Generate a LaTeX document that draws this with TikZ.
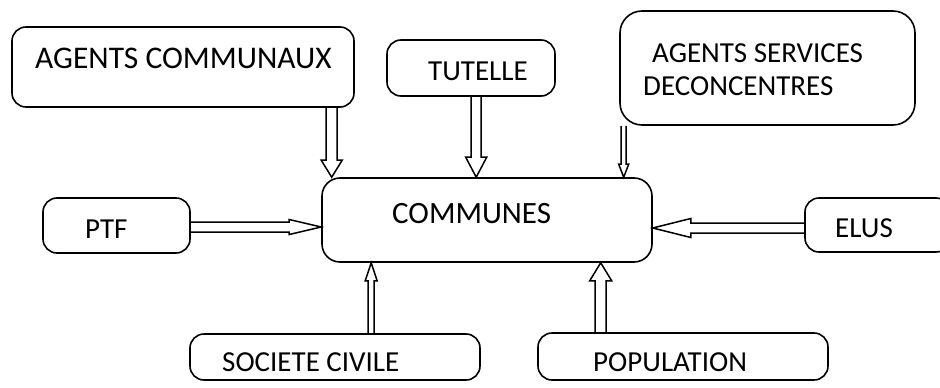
\documentclass[tikz,border=0pt]{standalone}
\usepackage{fontspec}
\setmainfont{Carlito}
\usetikzlibrary{calc}
\tikzset{
  box/.style={draw, line width=1.6pt, rounded corners=#1, inner sep=0pt, minimum width=0pt, minimum height=0pt},
  box/.default=14pt,
  lbl/.style={anchor=base west, inner sep=0pt, font=\fontsize{29}{29}\selectfont},
  biglbl/.style={lbl, font=\fontsize{31.5}{31.5}\selectfont},
  arrline/.style={draw, line width=1.5pt, line join=miter}
}
% #1 from, #2 to, #3 half shaft, #4 half head, #5 head length
\newcommand\blockarrow[5]{%
  \draw[arrline] let \p1=(#1), \p2=(#2),
     \n1={veclen(\x2-\x1,\y2-\y1)},
     \n2={(\x2-\x1)/\n1}, \n3={(\y2-\y1)/\n1} in
     ({\x1-\n3*#3},{\y1+\n2*#3})
  -- ({\x1+(\n1-#5)*\n2-\n3*#3},{\y1+(\n1-#5)*\n3+\n2*#3})
  -- ({\x1+(\n1-#5)*\n2-\n3*#4},{\y1+(\n1-#5)*\n3+\n2*#4})
  -- (\p2)
  -- ({\x1+(\n1-#5)*\n2+\n3*#4},{\y1+(\n1-#5)*\n3-\n2*#4})
  -- ({\x1+(\n1-#5)*\n2+\n3*#3},{\y1+(\n1-#5)*\n3-\n2*#3})
  -- ({\x1+\n3*#3},{\y1-\n2*#3});
}
\begin{document}
\begin{tikzpicture}[x=1pt,y=-1pt]
\useasboundingbox (0,0) rectangle (940,388);
% boxes
\node[box, minimum width=342pt, minimum height=80pt] (acom) at (183,67) {};
\node[box, minimum width=168pt, minimum height=56pt] (tut) at (471,68) {};
\node[box=22pt, minimum width=295pt, minimum height=114pt] (asd) at (767.5,68) {};
\node[box, minimum width=147pt, minimum height=55pt] (ptf) at (116.5,225.5) {};
\node[box=18pt, minimum width=330pt, minimum height=84pt] (com) at (487,220) {};
\node[box, minimum width=145pt, minimum height=54pt] (elus) at (877.5,225) {};
\node[box, minimum width=290pt, minimum height=46pt] (soc) at (335,357) {};
\node[box, minimum width=290pt, minimum height=47pt] (pop) at (683,356.5) {};
% labels
\node[biglbl] (acomT) at (35,68) {AGENTS COMMUNAUX};
\node[lbl] (tutT) at (428,80) {TUTELLE};
\node[lbl] (asdT1) at (652,62) {AGENTS SERVICES};
\node[lbl] (asdT2) at (643,95) {DECONCENTRES};
\node[lbl] (ptfT) at (85,238) {PTF};
\node[lbl, font=\fontsize{31}{31}\selectfont] (comT) at (392,223) {COMMUNES};
\node[lbl] (elusT) at (835,237) {ELUS};
\node[lbl] (socT) at (222,371) {SOCIETE CIVILE};
\node[lbl] (popT) at (593,371) {POPULATION};
% arrow end points on COMMUNES
\coordinate (e1) at ([xshift=10.5pt]com.north west);
\coordinate (e2) at ([xshift=155pt]com.north west);
\coordinate (e3) at ([xshift=302.5pt]com.north west);
\coordinate (e4) at ([yshift=-7pt]com.west);
\coordinate (e5) at ([yshift=-8pt]com.east);
\coordinate (e6) at ([xshift=50pt]com.south west);
\coordinate (e7) at ([xshift=279.5pt]com.south west);
% arrows
\blockarrow{acom.south -| e1}{e1}{5.5pt}{10.5pt}{17pt}
\blockarrow{tut.south -| e2}{e2}{5pt}{10.5pt}{20pt}
\blockarrow{asd.south -| e3}{e3}{2.5pt}{5pt}{13pt}
\blockarrow{ptf.east |- e4}{e4}{5pt}{7.5pt}{32pt}
\blockarrow{elus.west |- e5}{e5}{5pt}{9.5pt}{38pt}
\blockarrow{soc.north -| e6}{e6}{3pt}{6pt}{18pt}
\blockarrow{pop.north -| e7}{e7}{5.5pt}{11pt}{18pt}
\end{tikzpicture}
\end{document}
